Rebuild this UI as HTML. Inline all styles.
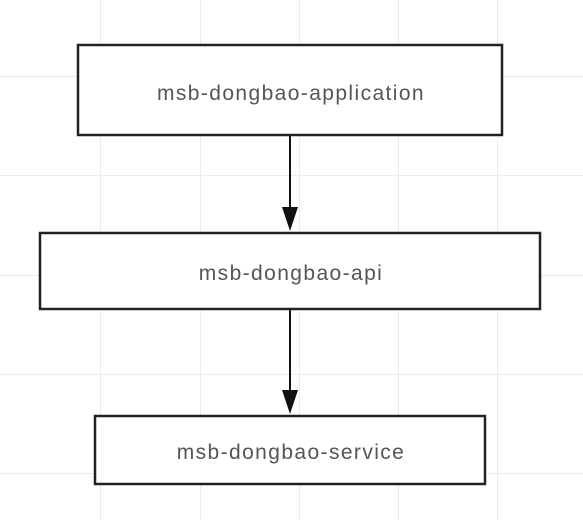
<!DOCTYPE html>
<html><head><style>
html,body{margin:0;padding:0;background:#fff;}
body{width:583px;height:520px;overflow:hidden;position:relative;font-family:"Liberation Sans","DejaVu Sans",sans-serif;}
</style></head><body>
<svg width="583" height="520" style="position:absolute;left:0;top:0">
<g stroke="#ececec" stroke-width="1">
<line x1="100.5" y1="0" x2="100.5" y2="520"/><line x1="200.5" y1="0" x2="200.5" y2="520"/><line x1="299.5" y1="0" x2="299.5" y2="520"/><line x1="398.5" y1="0" x2="398.5" y2="520"/><line x1="497.5" y1="0" x2="497.5" y2="520"/>
<line x1="0" y1="76.5" x2="583" y2="76.5"/><line x1="0" y1="175.5" x2="583" y2="175.5"/><line x1="0" y1="275.5" x2="583" y2="275.5"/><line x1="0" y1="374.5" x2="583" y2="374.5"/><line x1="0" y1="473.5" x2="583" y2="473.5"/>
</g>
<g fill="#fff" stroke="#222" stroke-width="2.5">
<rect x="78" y="45" width="424" height="90"/>
<rect x="40" y="233" width="500" height="76"/>
<rect x="95" y="416" width="390" height="68"/>
</g>
<g stroke="#111" stroke-width="2">
<line x1="290" y1="136" x2="290" y2="212"/>
<line x1="290" y1="310" x2="290" y2="395"/>
</g>
<g fill="#111">
<polygon points="282,207 298,207 290,231"/>
<polygon points="282,390 298,390 290,414"/>
</g>
<g font-size="21" fill="#555" text-anchor="middle" letter-spacing="1.4" font-family="Liberation Sans, DejaVu Sans, sans-serif">
<text x="291" y="100">msb-dongbao-application</text>
<text x="291" y="280">msb-dongbao-api</text>
<text x="291" y="459">msb-dongbao-service</text>
</g>
</svg>
</body></html>
